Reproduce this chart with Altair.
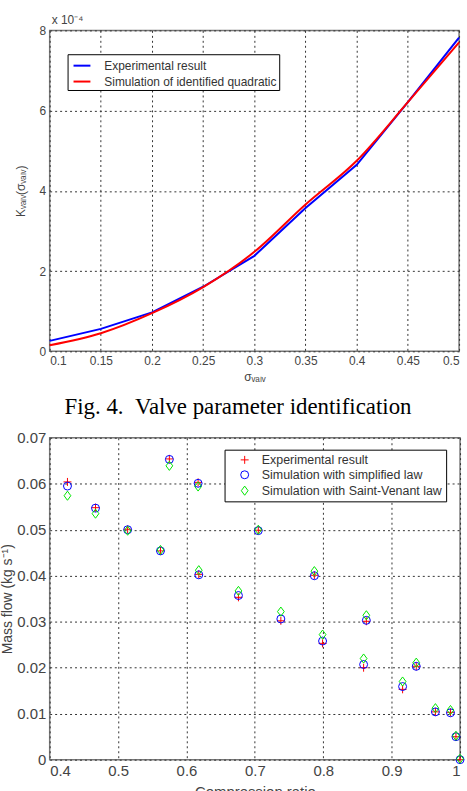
import altair as alt
import pandas as pd

# ---------------- Top chart (values in units of 1e-4) ----------------
sigma_valv = [0.10, 0.15, 0.20, 0.25, 0.30, 0.35, 0.40, 0.45, 0.50]
k_experimental = [0.26, 0.56, 0.97, 1.61, 2.38, 3.57, 4.65, 6.21, 7.82]
k_quadratic = [0.15, 0.45, 0.95, 1.60, 2.48, 3.66, 4.75, 6.21, 7.70]
top_series = ["Experimental result", "Simulation of identified quadratic"]
top_colors = ["#0000ff", "#ff0000"]
top_x_ticks = [0.1, 0.15, 0.2, 0.25, 0.3, 0.35, 0.4, 0.45, 0.5]
top_y_ticks = [0, 2, 4, 6, 8]

# ---------------- Bottom chart ----------------
compression_ratio = [0.426, 0.467, 0.514, 0.562, 0.575, 0.617, 0.618, 0.676, 0.705, 0.738,
                     0.787, 0.799, 0.859, 0.863, 0.916, 0.936, 0.964, 0.986, 0.994, 1.000]
flow_experimental = [0.0604, 0.0548, 0.0501, 0.0454, 0.0654, 0.0603, 0.0403, 0.0353, 0.0499, 0.0302,
                     0.0401, 0.0253, 0.0200, 0.0301, 0.0153, 0.0203, 0.0104, 0.0103, 0.0050, 0.0000]
flow_simplified = [0.0595, 0.0547, 0.0500, 0.0454, 0.0653, 0.0601, 0.0402, 0.0357, 0.0498, 0.0306,
                   0.0400, 0.0258, 0.0207, 0.0303, 0.0159, 0.0203, 0.0104, 0.0102, 0.0050, 0.0000]
flow_saint_venant = [0.0574, 0.0535, 0.0498, 0.0456, 0.0639, 0.0594, 0.0412, 0.0367, 0.0500, 0.0322,
                     0.0410, 0.0272, 0.0220, 0.0314, 0.0170, 0.0211, 0.0112, 0.0108, 0.0052, 0.0002]
bottom_series = ["Experimental result", "Simulation with simplified law", "Simulation with Saint-Venant law"]
bottom_colors = ["#ff0000", "#0000ff", "#00e600"]
bottom_shapes = ["M-1,0L1,0M0,-1L0,1", "circle", "M0,-1.15L0.85,0L0,1.15L-0.85,0Z"]
bottom_x_ticks = [0.4, 0.5, 0.6, 0.7, 0.8, 0.9, 1.0]
bottom_y_ticks = [0, 0.01, 0.02, 0.03, 0.04, 0.05, 0.06, 0.07]

caption = "Fig. 4.\u00a0\u00a0Valve parameter identification"
FONT = "Liberation Sans"

# ---------------- build top chart ----------------
top_df = pd.concat([
    pd.DataFrame({"sigma": sigma_valv, "k": k_experimental, "series": top_series[0]}),
    pd.DataFrame({"sigma": sigma_valv, "k": k_quadratic, "series": top_series[1]}),
], ignore_index=True)

x_top = alt.X("sigma:Q", scale=alt.Scale(domain=[0.1, 0.5], nice=False, zero=False),
              axis=alt.Axis(values=top_x_ticks, format="~g", title="σᵥₐₗᵥ",
                            labelFontSize=12, titleFontSize=12, labelPadding=4, titlePadding=5))
y_top = alt.Y("k:Q", scale=alt.Scale(domain=[0, 8], nice=False),
              axis=alt.Axis(values=top_y_ticks, format="d", title="Kᵥₐₗᵥ(σᵥₐₗᵥ)",
                            labelFontSize=12, titleFontSize=12, labelPadding=4,
                            titleX=-29, titleY=161.5, titleBaseline="middle",
                            titleAlign="center", titleAngle=270))
color_top = alt.Color("series:N", scale=alt.Scale(domain=top_series, range=top_colors),
                      legend=alt.Legend(title=None, orient="none", legendX=18, legendY=24,
                                        symbolType="stroke", symbolStrokeWidth=2, symbolSize=289,
                                        labelFontSize=12, labelFont=FONT, labelColor="#333",
                                        labelLimit=0, labelExpr="datum.label + '\u00a0\u00a0'",
                                        strokeColor="#000", fillColor="white", padding=2,
                                        rowPadding=0, labelOffset=13, symbolOffset=3))

base_top = alt.Chart(top_df)
exp_line = base_top.transform_filter(alt.datum.series == top_series[0]).mark_line(
    strokeWidth=2).encode(x=x_top, y=y_top, color=color_top)
sim_line = base_top.transform_filter(alt.datum.series == top_series[1]).mark_line(
    strokeWidth=2, interpolate="monotone").encode(x=x_top, y=y_top, color=color_top)
exponent = alt.Chart(pd.DataFrame({"t": ["x 10⁻⁴"]})).mark_text(
    align="left", baseline="middle", fontSize=12, color="#444", font=FONT
).encode(x=alt.value(2), y=alt.value(-10), text="t:N")

top = alt.layer(exp_line, sim_line, exponent).properties(width=412, height=323)

# ---------------- build bottom chart ----------------
rows = []
for name, vals in zip(bottom_series, [flow_experimental, flow_simplified, flow_saint_venant]):
    for xv, yv in zip(compression_ratio, vals):
        rows.append({"ratio": xv, "flow": yv, "series": name})
bottom_df = pd.DataFrame(rows)

legend_bottom = alt.Legend(title=None, orient="none", legendX=176, legendY=12,
                           labelFontSize=12.5, labelFont=FONT, labelColor="#333",
                           labelLimit=0, labelExpr="datum.label + '\u00a0'",
                           strokeColor="#000", fillColor="white", padding=4,
                           rowPadding=2, labelOffset=11, symbolOffset=10,
                           symbolSize=64, symbolStrokeWidth=1)

bottom = alt.Chart(bottom_df).mark_point(filled=False, size=64, strokeWidth=1, opacity=1).encode(
    x=alt.X("ratio:Q", scale=alt.Scale(domain=[0.4, 1.0], nice=False, zero=False),
            axis=alt.Axis(values=bottom_x_ticks, format="~g", title="Compression ratio",
                          labelFontSize=15, titleFontSize=15, labelPadding=4, titlePadding=6)),
    y=alt.Y("flow:Q", scale=alt.Scale(domain=[0, 0.07], nice=False),
            axis=alt.Axis(values=bottom_y_ticks, format="~g", title="Mass flow (kg s⁻¹)",
                          labelFontSize=15, titleFontSize=14, labelPadding=4, titlePadding=2)),
    color=alt.Color("series:N", scale=alt.Scale(domain=bottom_series, range=bottom_colors),
                    legend=legend_bottom),
    shape=alt.Shape("series:N", scale=alt.Scale(domain=bottom_series, range=bottom_shapes),
                    legend=legend_bottom),
).properties(
    width=413, height=324,
    title=alt.TitleParams(caption, font="Liberation Serif", fontSize=23, fontWeight="normal",
                          color="black", anchor="middle", frame="group", dx=-17, dy=23,
                          offset=17, baseline="alphabetic"),
)

chart = alt.vconcat(top, bottom, spacing=87, bounds="flush").resolve_scale(
    color="independent", shape="independent"
).properties(
    padding={"left": 0, "top": 11, "right": 0, "bottom": 0}, background="white"
).configure_view(
    stroke="#777", strokeWidth=1.5
).configure_axis(
    grid=True, gridColor="#333", gridDash=[2, 3], gridWidth=1, gridOpacity=1,
    domain=False, ticks=False, labelColor="#444", titleColor="#444",
    labelFont=FONT, titleFont=FONT, titleFontWeight="normal"
)

chart.save("out.html", embed_options={"renderer": "svg", "actions": False})
